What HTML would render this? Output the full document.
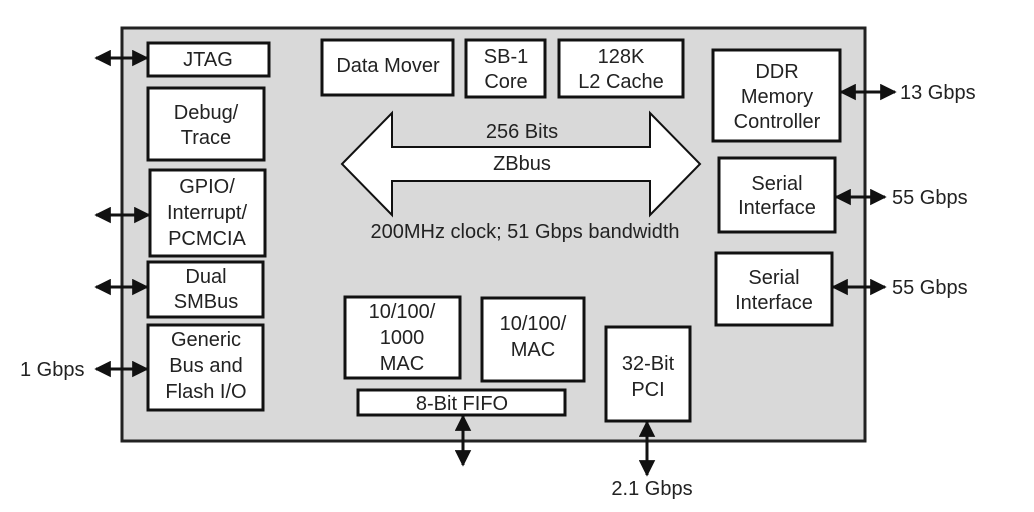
<!DOCTYPE html>
<html><head><style>body{margin:0;background:#fff}svg{display:block}</style></head><body>
<svg width="1034" height="512" viewBox="0 0 1034 512" xmlns="http://www.w3.org/2000/svg" font-family="Liberation Sans, sans-serif" font-size="20" fill="#222">
<defs>
<marker id="a" viewBox="0 0 10 10" refX="9" refY="5" markerWidth="5.5" markerHeight="5.5" orient="auto-start-reverse"><path d="M0,0L10,5L0,10z" fill="#111"/></marker>
</defs>
<rect x="122" y="28" width="743" height="413" fill="#d9d9d9" stroke="#222" stroke-width="3"/>
<g fill="#fff" stroke="#111" stroke-width="3">
<rect x="148" y="43" width="121" height="33"/>
<rect x="148" y="88" width="116" height="72"/>
<rect x="150" y="170" width="115" height="86"/>
<rect x="148" y="262" width="115" height="55"/>
<rect x="148" y="325" width="115" height="85"/>
<rect x="322" y="40" width="131" height="55"/>
<rect x="466" y="40" width="79" height="57"/>
<rect x="559" y="40" width="124" height="57"/>
<rect x="713" y="50" width="127" height="91"/>
<rect x="719" y="158" width="116" height="74"/>
<rect x="716" y="253" width="116" height="72"/>
<rect x="345" y="297" width="115" height="81"/>
<rect x="482" y="298" width="102" height="83"/>
<rect x="358" y="390" width="207" height="25"/>
<rect x="606" y="327" width="84" height="94"/>
<path d="M342,164 L392,113 L392,147 L650,147 L650,113 L700,164 L650,215 L650,181 L392,181 L392,215 Z" stroke-width="2"/>
</g>
<g stroke="#111" stroke-width="3" marker-start="url(#a)" marker-end="url(#a)">
<line x1="96" y1="58" x2="147" y2="58"/>
<line x1="96" y1="215" x2="149" y2="215"/>
<line x1="96" y1="287" x2="147" y2="287"/>
<line x1="96" y1="369" x2="147" y2="369"/>
<line x1="841" y1="92" x2="895" y2="92"/>
<line x1="836" y1="197" x2="885" y2="197"/>
<line x1="833" y1="287" x2="885" y2="287"/>
<line x1="463" y1="416" x2="463" y2="465"/>
<line x1="647" y1="422" x2="647" y2="475"/>
</g>
<g text-anchor="middle">
<text x="208" y="66">JTAG</text>
<text x="206" y="119">Debug/</text><text x="206" y="144">Trace</text>
<text x="207" y="193">GPIO/</text><text x="207" y="219">Interrupt/</text><text x="207" y="245">PCMCIA</text>
<text x="206" y="283">Dual</text><text x="206" y="308">SMBus</text>
<text x="206" y="346">Generic</text><text x="206" y="372">Bus and</text><text x="206" y="398">Flash I/O</text>
<text x="388" y="72">Data Mover</text>
<text x="506" y="63">SB-1</text><text x="506" y="88">Core</text>
<text x="621" y="63">128K</text><text x="621" y="88">L2 Cache</text>
<text x="777" y="78">DDR</text><text x="777" y="103">Memory</text><text x="777" y="128">Controller</text>
<text x="777" y="190">Serial</text><text x="777" y="214">Interface</text>
<text x="774" y="284">Serial</text><text x="774" y="309">Interface</text>
<text x="402" y="318">10/100/</text><text x="402" y="344">1000</text><text x="402" y="370">MAC</text>
<text x="533" y="330">10/100/</text><text x="533" y="356">MAC</text>
<text x="462" y="410">8-Bit FIFO</text>
<text x="648" y="370">32-Bit</text><text x="648" y="396">PCI</text>
<text x="522" y="138">256 Bits</text>
<text x="522" y="170">ZBbus</text>
<text x="525" y="238">200MHz clock; 51 Gbps bandwidth</text>
<text x="652" y="495">2.1 Gbps</text>
</g>
<text x="20" y="376">1 Gbps</text>
<text x="900" y="99">13 Gbps</text>
<text x="892" y="204">55 Gbps</text>
<text x="892" y="294">55 Gbps</text>
</svg>
</body></html>
